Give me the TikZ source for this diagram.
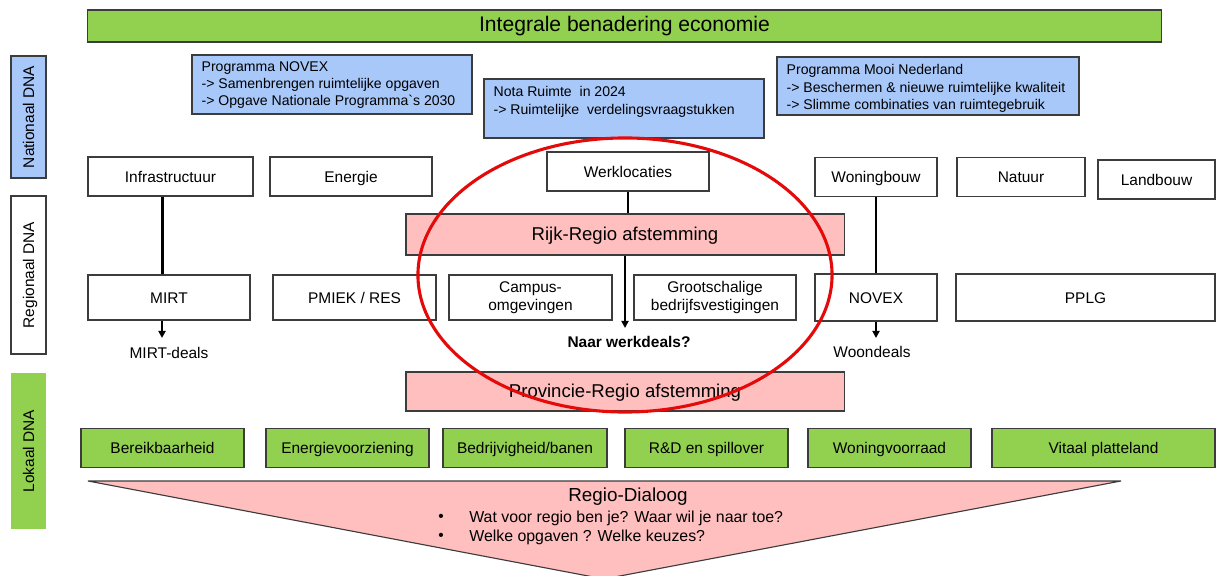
\documentclass[tikz,border=0pt]{standalone}
\usepackage{fontspec}
\setmainfont{Liberation Sans}
\usetikzlibrary{arrows.meta}

\definecolor{dnagreen}{RGB}{146,208,80}
\definecolor{dnablue}{RGB}{168,200,250}
\definecolor{dnapink}{RGB}{255,191,191}
\definecolor{edge}{RGB}{60,60,60}
\definecolor{ringred}{RGB}{228,10,10}

\begin{document}
\begin{tikzpicture}[x=0.025cm, y=-0.025cm,
  every node/.style={font=\fontsize{11}{13}\selectfont},
  box/.style={draw=edge, line width=0.8pt, fill=white, minimum height=0.975cm, inner sep=1pt, align=center,
    text height=0.95em, text depth=0.15em},
  twoline/.style={text height=, text depth=},
  level/.style={box, rotate=90, minimum height=0.875cm},
  greenbox/.style={box, fill=dnagreen},
  bluebox/.style={draw=edge, line width=0.8pt, fill=dnablue, minimum height=1.475cm},
  bluetext/.style={anchor=north west, inner sep=0pt, align=left, font=\fontsize{10}{12.2}\selectfont},
  pinkbar/.style={draw=edge, line width=0.8pt, fill=dnapink, minimum width=10.95cm,
    text height=0.95em, text depth=0.15em, font=\fontsize{13.2}{15}\selectfont},
  link/.style={line width=1.6pt},
  deal/.style={line width=1.3pt, -{Triangle[length=5pt,width=5pt]}}]

  \useasboundingbox (0,0) rectangle (1216,576);

  % top bar
  \node[greenbox, minimum width=26.83cm, minimum height=0.8cm, font=\fontsize{15}{17}\selectfont] (econ) at (624.5,26) {Integrale benadering economie};

  % levels on the left
  \node[level, fill=dnablue, minimum width=3.05cm] (natdna) at (28.5,117) {Nationaal DNA};
  \node[level, minimum width=3.95cm] (regdna) at (28.5,275) {Regionaal DNA};
  \node[level, draw=none, fill=dnagreen, minimum width=3.9cm] (lokdna) at (28.5,451) {Lokaal DNA};

  % national programmes
  \node[bluebox, minimum width=7cm] (novexprog) at (332,84.5) {};
  \node[bluetext] (novextxt) at ([shift={(10,7)}]novexprog.north west)
    {Programma NOVEX\\-> Samenbrengen ruimtelijke opgaven\\-> Opgave Nationale Programma\textasciigrave s 2030};
  \node[bluebox, minimum width=7cm] (nota) at (624,108.5) {};
  \node[bluetext] (notatxt) at ([shift={(10,8)}]nota.north west)
    {Nota Ruimte~ in 2024\\-> Ruimtelijke~ verdelingsvraagstukken};
  \node[bluebox, minimum width=7.55cm, minimum height=1.45cm] (mooi) at (928,86) {};
  \node[bluetext] (mooitxt) at ([shift={(10,8)}]mooi.north west)
    {Programma Mooi Nederland\\-> Beschermen \& nieuwe ruimtelijke kwaliteit\\-> Slimme combinaties van ruimtegebruik};

  % themes
  \node[box, minimum width=4.125cm] (infra) at (170.5,176.5) {Infrastructuur};
  \node[box, minimum width=4.05cm] (energie) at (351,176.5) {Energie};
  \node[box, minimum width=4.05cm] (werk) at (628,171.5) {Werklocaties};
  \node[box, minimum width=3.05cm] (woning) at (876,177) {Woningbouw};
  \node[box, minimum width=3.2cm] (natuur) at (1021,177) {Natuur};
  \node[box, minimum width=2.925cm] (landbouw) at (1156.5,179.5) {Landbouw};

  % afstemming
  \node[pinkbar, minimum height=1.025cm] (rijk) at (625,234.5) {Rijk-Regio afstemming};
  \node[pinkbar, minimum height=0.975cm] (prov) at (625,391.5) {Provincie-Regio afstemming};

  % regional programmes
  \node[box, minimum width=4.05cm, minimum height=1.125cm] (mirt) at (169,297.5) {MIRT};
  \node[box, minimum width=4.075cm, minimum height=1.125cm] (pmiek) at (354.5,297.5) {PMIEK / RES};
  \node[box, twoline, minimum width=4.075cm, minimum height=1.125cm] (campus) at (530.5,297.5) {Campus-\\omgevingen};
  \node[box, twoline, minimum width=4.05cm, minimum height=1.125cm] (groot) at (715,297.5) {Grootschalige\\bedrijfsvestigingen};
  \node[box, minimum width=3.05cm, minimum height=1.175cm] (novex) at (876,297.5) {NOVEX};
  \node[box, minimum width=6.475cm, minimum height=1.175cm] (pplg) at (1085.5,297.5) {PPLG};

  % links and deals
  \draw[link] ([xshift=-0.2cm]infra.south) -- ([xshift=-0.2cm]infra.south |- mirt.north);
  \draw[link] (woning.south) -- (novex.north);
  \draw[link] (werk.south) -- (werk.south |- rijk.north);

  \coordinate (mirtend) at (162,338);
  \coordinate (werkend) at (625,328);
  \coordinate (woonend) at (876,338);
  \draw[deal] (mirt.south -| mirtend) -- (mirtend);
  \draw[deal, line width=1.6pt] (rijk.south) -- (werkend);
  \draw[deal] (novex.south) -- (woonend);

  \node (mirtdeals) at (169,353) {MIRT-deals};
  \node[font=\fontsize{11}{13}\selectfont\bfseries] (werkdeals) at (629,342) {Naar werkdeals?};
  \node (woondeals) at (872,352) {Woondeals};

  % local themes
  \node[greenbox, minimum width=4.075cm] (bereik) at (162.5,448) {Bereikbaarheid};
  \node[greenbox, minimum width=4.075cm] (energiev) at (347.5,448) {Energievoorziening};
  \node[greenbox, minimum width=4.1cm] (bedrijv) at (525,448) {Bedrijvigheid/banen};
  \node[greenbox, minimum width=4.075cm] (rnd) at (706.5,448) {R\&D en spillover};
  \node[greenbox, minimum width=4.075cm] (woningv) at (889.5,448) {Woningvoorraad};
  \node[greenbox, minimum width=5.575cm] (vitaal) at (1103.5,448) {Vitaal platteland};

  % regio-dialoog funnel
  \coordinate (funl) at (88,481);
  \coordinate (funr) at (1121,481);
  \coordinate (funtip) at (604,579);
  \draw[draw=edge, line width=0.8pt, fill=dnapink] (funl) -- (funr) -- (funtip) -- cycle;
  \node[font=\fontsize{13.4}{15}\selectfont] (dialoog) at (628,497) {Regio-Dialoog};
  \node (bulleta) at (441,518) {\textbullet};
  \node (bulletb) at (441,537) {\textbullet};
  \node[anchor=west, inner sep=0pt, font=\fontsize{11.3}{13}\selectfont] (vraaga) at (469,518) {Wat voor regio ben je? Waar wil je naar toe?};
  \node[anchor=west, inner sep=0pt, font=\fontsize{11.3}{13}\selectfont] (vraagb) at (469,537) {Welke opgaven ? Welke keuzes?};

  % werklocaties ring
  \draw[ringred, line width=2.2pt] (625,275) ellipse [x radius=5.175cm, y radius=3.425cm];
\end{tikzpicture}
\end{document}
